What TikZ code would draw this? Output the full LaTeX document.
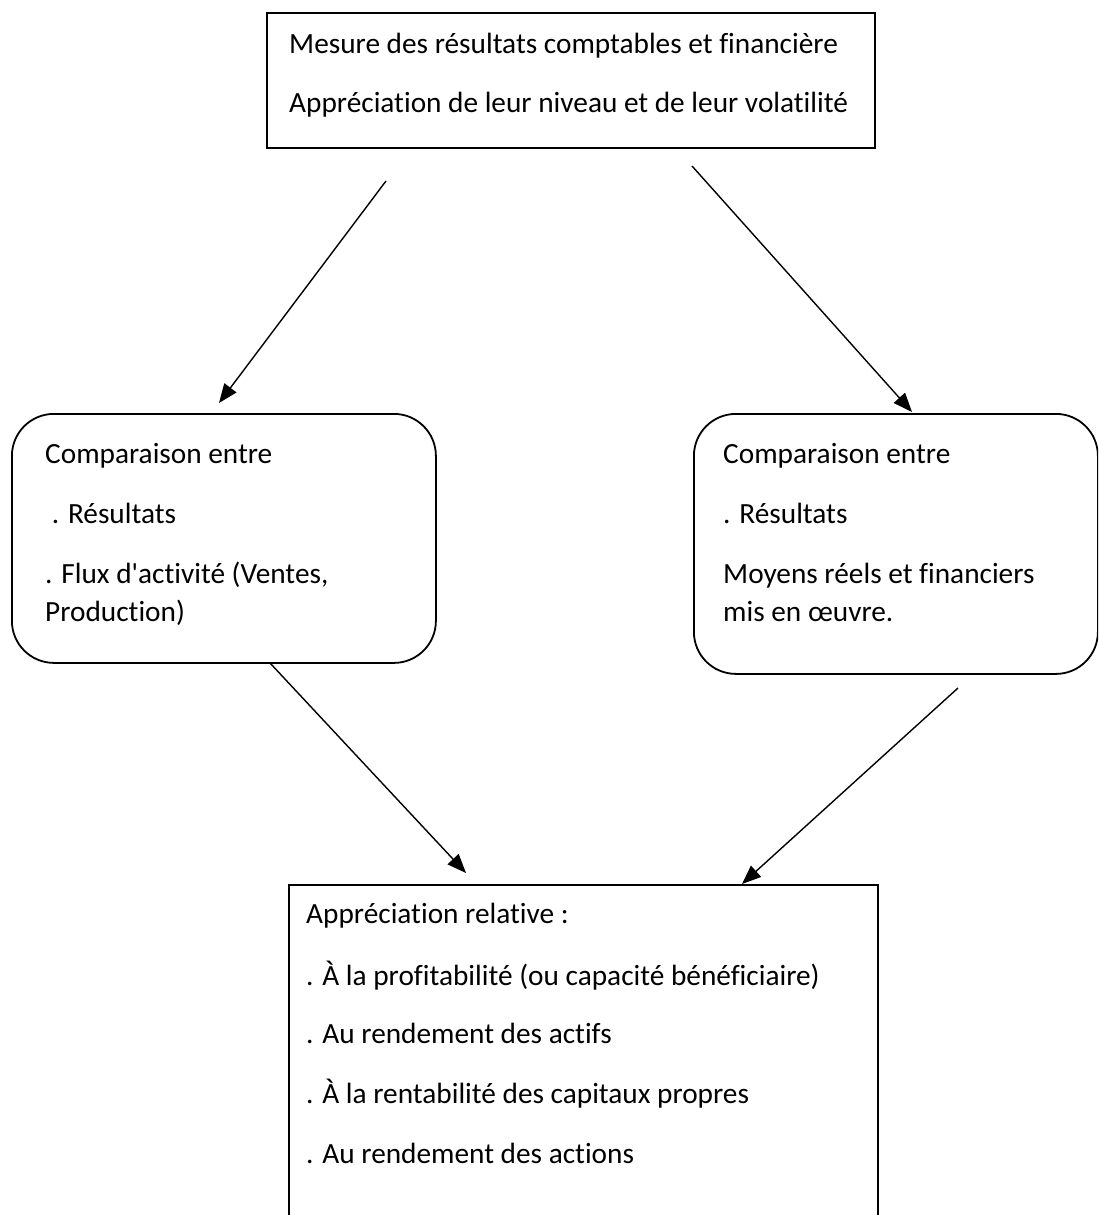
\documentclass[tikz,border=0pt]{standalone}
\usepackage{fontspec}
\setmainfont{Carlito}[Ligatures={TeXOff,CommonOff}]
\usetikzlibrary{arrows.meta,calc}

\begin{document}
\begin{tikzpicture}[x=1pt,y=-1pt,
  box/.style={draw,line width=1.8pt,inner sep=0pt,minimum width=#1},
  rbox/.style={box=#1,rounded corners=42pt},
  txt/.style={anchor=base west,inner sep=0pt,font=\fontsize{29.3}{34}\selectfont},
  arr/.style={line width=1.4pt,-{Triangle[length=19pt,width=15pt]}}
]
\useasboundingbox (0,0) rectangle (1098,1215);
\clip (0,0) rectangle (1098,1215);

% boxes
\node[box=608pt,minimum height=135pt,anchor=north west] (top) at (266,12) {};
\node[rbox=424pt,minimum height=249pt,anchor=north west] (left) at (11,413) {};
\node[rbox=404pt,minimum height=260pt,anchor=north west] (right) at (693,413) {};
\node[box=589pt,minimum height=340pt,anchor=north west] (bottom) at (288,884) {};

% top box text
\node[txt] (t1) at (289,53) {Mesure des résultats comptables et financière};
\node[txt] (t2) at (289,112) {Appréciation de leur niveau et de leur volatilité};

% left box text
\node[txt] (l1) at (45,463) {Comparaison entre};
\node[txt] (l2) at (45,523) {\ . Résultats};
\node[txt] (l3) at (45,583) {. Flux d'activité (Ventes,};
\node[txt] (l4) at (45,621) {Production)};

% right box text
\node[txt] (r1) at (723,463) {Comparaison entre};
\node[txt] (r2) at (723,523) {. Résultats};
\node[txt] (r3) at (723,583) {Moyens réels et financiers};
\node[txt] (r4) at (723,621) {mis en œuvre.};

% bottom box text
\node[txt] (b1) at (306,923) {Appréciation relative :};
\node[txt] (b2) at (306,985) {. À la profitabilité (ou capacité bénéficiaire)};
\node[txt] (b3) at (306,1043) {. Au rendement des actifs};
\node[txt] (b4) at (306,1103) {. À la rentabilité des capitaux propres};
\node[txt] (b5) at (306,1163) {. Au rendement des actions};

% connector ends
\coordinate (a1s) at (386,181);
\coordinate (a1e) at (219,403);
\coordinate (a2s) at (692,166);
\coordinate (a2e) at (912,412);
\coordinate (a3s) at (270,663);
\coordinate (a3e) at (466,873);
\coordinate (a4s) at (958,688);
\coordinate (a4e) at (742,884);

\draw[arr] (a1s) -- (a1e);
\draw[arr] (a2s) -- (a2e);
\draw[arr] (a3s) -- (a3e);
\draw[arr] (a4s) -- (a4e);
\end{tikzpicture}
\end{document}
